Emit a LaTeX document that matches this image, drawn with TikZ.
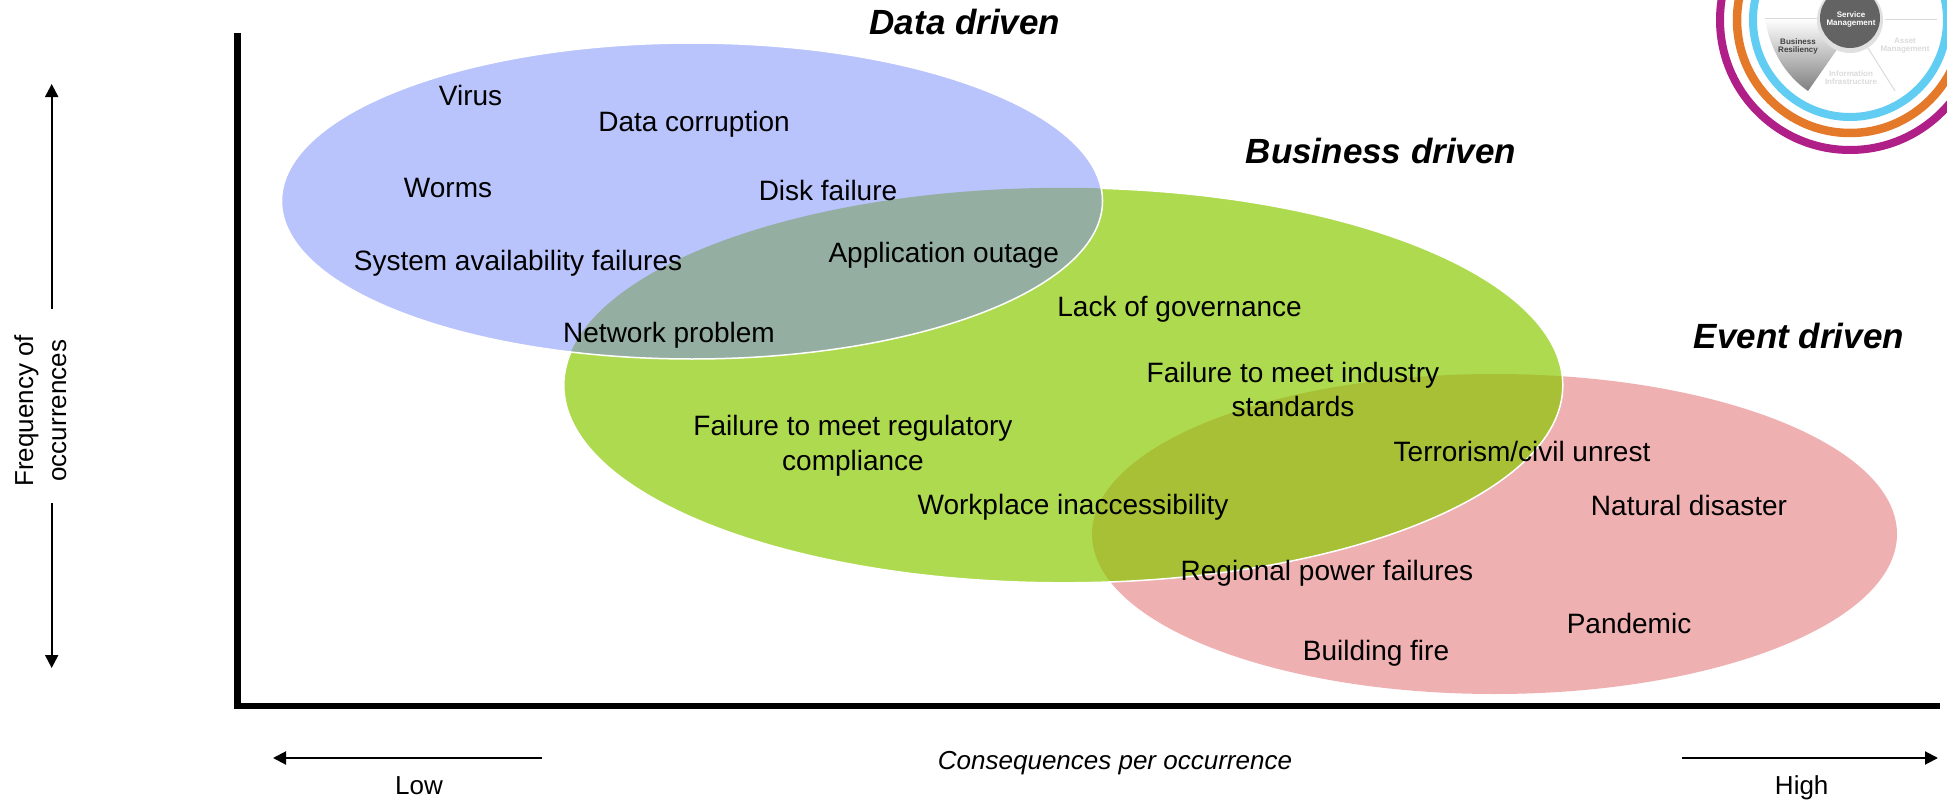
\documentclass[tikz,border=0pt]{standalone}
\usepackage{fontspec}
\setmainfont{Liberation Sans}
\usetikzlibrary{arrows.meta,shadings}
\definecolor{cblue}{HTML}{B9C3FC}
\definecolor{cgreen}{HTML}{AEDA4F}
\definecolor{cred}{HTML}{EFB0B1}
\definecolor{cbg}{HTML}{94AFA2}
\definecolor{cgr}{HTML}{A8C036}
\definecolor{rpurple}{HTML}{B01E87}
\definecolor{rorange}{HTML}{E5792A}
\definecolor{rblue}{HTML}{62CDF2}
\definecolor{hubgray}{HTML}{636363}
\definecolor{fade}{HTML}{DADADA}
\tikzset{
  lab/.style={anchor=base,font=\fontsize{28}{34.7}\selectfont,inner sep=0pt,align=center},
  ttl/.style={anchor=base,font=\fontsize{35}{40}\selectfont\bfseries\itshape,inner sep=0pt},
  axl/.style={anchor=base,font=\fontsize{26}{32}\selectfont,inner sep=0pt,align=center},
  axisline/.style={line width=6.5pt,black},
  dirarrow/.style={line width=2pt,black,-{Triangle[length=13pt,width=13pt]}},
  tiny1/.style={font=\fontsize{8}{9}\selectfont\bfseries,inner sep=0pt,align=center},
}
\begin{document}
\begin{tikzpicture}[x=1pt,y=-1pt]
\useasboundingbox (0,0) rectangle (1947,800);
\clip (0,0) rectangle (1947,800);
% ellipses
\fill[cred] (1494.5,534) ellipse [x radius=402.5,y radius=160];
\fill[cgreen] (1063.3,385.3) ellipse [x radius=499.5,y radius=197.5];
\begin{scope}
  \clip (1494.5,534) ellipse [x radius=402.5,y radius=160];
  \fill[cgr] (1063.3,385.3) ellipse [x radius=499.5,y radius=197.5];
\end{scope}
\draw[white,line width=1.5pt] (1063.3,385.3) ellipse [x radius=499.5,y radius=197.5];
\fill[cblue] (692,201) ellipse [x radius=410.5,y radius=158];
\begin{scope}
  \clip (692,201) ellipse [x radius=410.5,y radius=158];
  \fill[cbg] (1063.3,385.3) ellipse [x radius=499.5,y radius=197.5];
\end{scope}
\draw[white,line width=1.5pt] (692,201) ellipse [x radius=410.5,y radius=158];
% logo
\draw[rpurple,line width=8pt] (1850,20) circle [radius=130];
\draw[rorange,line width=8.5pt] (1850,20) circle [radius=113];
\draw[rblue,line width=8pt] (1850,20) circle [radius=97];
\shade[left color=white,right color=black!50,shading angle=0]
  (1765,19) -- (1825,19) -- (1838,48) -- (1808,91) .. controls (1785,75) and (1770,50) .. cycle;
\draw[fade,line width=1pt] (1765,19) -- (1822,19);
\coordinate (ra) at (1885,20);
\coordinate (rb) at (1937,20);
\coordinate (rc) at (1868,48);
\coordinate (rd) at (1895,91);
\draw[fade,line width=1pt] (ra) -- (rb);
\draw[fade,line width=1pt] (rc) -- (rd);
\fill[black!12] (1850,20) circle [radius=33];
\fill[hubgray] (1850,18) circle [radius=30];
\node[tiny1,white] (hub) at (1851,19.5) {Service\\[-1pt]Management};
\node[tiny1,black!75] (res) at (1798,46) {Business\\[-1pt]Resiliency};
\node[tiny1,fade] (asset) at (1905,46) {Asset\\[-1pt]Management};
\node[tiny1,fade] (info) at (1851,78) {Information\\[-1pt]Infrastructure};
% axes
\coordinate (ytop) at (237.5,33);
\coordinate (ybot) at (237.5,709);
\coordinate (xl) at (237.5,706);
\coordinate (xr) at (1940,706);
\draw[axisline] (ytop) -- (ybot);
\draw[axisline] (xl) -- (xr);
% direction arrows
\coordinate (upS) at (51.7,309);
\coordinate (upE) at (51.7,84);
\coordinate (dnS) at (51.7,503);
\coordinate (dnE) at (51.7,668);
\coordinate (lfS) at (541.5,758);
\coordinate (lfE) at (273,758);
\coordinate (rtS) at (1682,758);
\coordinate (rtE) at (1938,758);
\draw[dirarrow] (upS) -- (upE);
\draw[dirarrow] (dnS) -- (dnE);
\draw[dirarrow] (lfS) -- (lfE);
\draw[dirarrow] (rtS) -- (rtE);
% titles
\node[ttl] (tdata) at (965,34.7) {Data driven};
\node[ttl] (tbus) at (1381,163) {Business driven};
\node[ttl] (tevent) at (1799,348) {Event driven};
% labels
\node[lab] (virus) at (470.6,105.6) {Virus};
\node[lab] (corrupt) at (694,131.6) {Data corruption};
\node[lab] (worms) at (448,197.4) {Worms};
\node[lab] (disk) at (828,200) {Disk failure};
\node[lab] (sys) at (518,270) {System availability failures};
\node[lab] (app) at (943.7,262.7) {Application outage};
\node[lab] (net) at (669,342) {Network problem};
\node[lab] (gov) at (1179.6,316) {Lack of governance};
\node[lab] (ind) at (1293,416.7) {Failure to meet industry\\standards};
\node[lab] (reg) at (853,470) {Failure to meet regulatory\\compliance};
\node[lab] (work) at (1073,514) {Workplace inaccessibility};
\node[lab] (terror) at (1522,461.7) {Terrorism/civil unrest};
\node[lab] (nat) at (1689,515) {Natural disaster};
\node[lab] (power) at (1327,580) {Regional power failures};
\node[lab] (pand) at (1629,633) {Pandemic};
\node[lab] (fire) at (1376,660) {Building fire};
% axis labels
\node[axl,font=\fontsize{26}{32}\selectfont\itshape] (cons) at (1115,769) {Consequences per occurrence};
\node[axl] (low) at (419,794) {Low};
\node[axl] (high) at (1801.7,794) {High};
\node[axl,rotate=90] (freq) at (33,410.7) {Frequency of};
\node[axl,rotate=90] (occ) at (66,410.7) {occurrences};
\end{tikzpicture}
\end{document}
